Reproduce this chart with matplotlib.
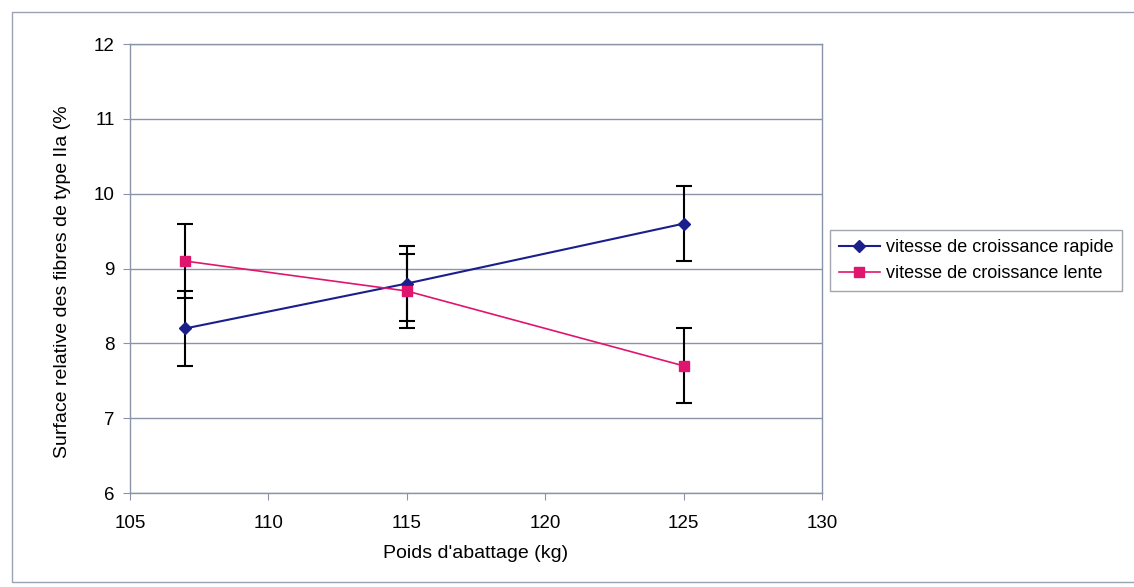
import matplotlib
matplotlib.use('Agg')
import matplotlib.pyplot as plt
from matplotlib.patches import Rectangle

plt.rcParams['font.family'] = ['Liberation Sans', 'DejaVu Sans']

# Data
poids = [107, 115, 125]
rapide = [8.2, 8.8, 9.6]
rapide_err = [0.5, 0.5, 0.5]
lente = [9.1, 8.7, 7.7]
lente_err = [0.5, 0.5, 0.5]
labels = ['vitesse de croissance rapide', 'vitesse de croissance lente']

grid_col = '#8a94a8'

fig = plt.figure(figsize=(11.34, 5.87), dpi=100)
ax = fig.add_axes([0.1146, 0.160, 0.6103, 0.765])

# outer chart frame
fig.patches.append(Rectangle((12 / 1134, 1 - 582 / 587), 1.1, (582 - 12) / 587,
                             transform=fig.transFigure, fill=False,
                             edgecolor='#9aa2b4', linewidth=1.0))

ax.errorbar(poids, rapide, yerr=rapide_err, color='#1a1f8c', marker='D',
            markersize=6, linewidth=1.5, ecolor='black', elinewidth=1.5,
            capsize=6, capthick=1.5, label=labels[0], zorder=3)
ax.errorbar(poids, lente, yerr=lente_err, color='#e0156e', marker='s',
            markersize=7, linewidth=1.2, ecolor='black', elinewidth=1.5,
            capsize=6, capthick=1.5, label=labels[1], zorder=3)

ax.set_xlim(105, 130)
ax.set_ylim(6, 12)
ax.set_xticks(range(105, 131, 5))
ax.set_yticks(range(6, 13))
ax.yaxis.grid(True, color=grid_col, linewidth=1.0)
ax.set_axisbelow(True)
for s in ax.spines.values():
    s.set_color(grid_col)
    s.set_linewidth(1.0)
ax.tick_params(axis='both', colors=grid_col, labelcolor='black', labelsize=13.5,
               direction='out', length=5)
ax.tick_params(axis='x', pad=11)
ax.tick_params(axis='y', pad=6)

ax.set_xlabel("Poids d'abattage (kg)", fontsize=14, labelpad=9)
ax.set_ylabel("Surface relative des fibres de type IIa (%", fontsize=14)
ax.yaxis.set_label_coords(-0.085, 0.47)

handles, _ = ax.get_legend_handles_labels()
handles = [h[0] for h in handles]
leg = ax.legend(handles, labels, loc='center left', bbox_to_anchor=(1.003, 0.517),
                fontsize=13, frameon=True, fancybox=False, handlelength=2.3,
                handletextpad=0.3, borderpad=0.5, labelspacing=0.5,
                borderaxespad=0.3)
leg.get_frame().set_edgecolor('#8a8f9a')
leg.get_frame().set_linewidth(1.0)

fig.savefig('out.png', dpi=100)
